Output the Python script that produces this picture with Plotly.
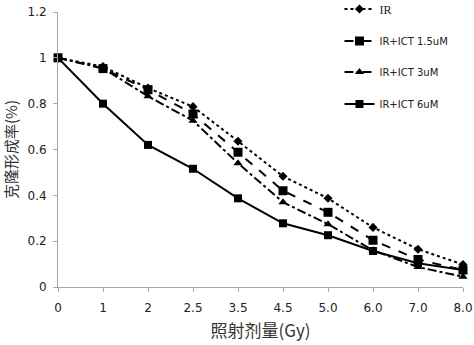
import plotly.graph_objects as go

categories = ["0", "1", "2", "2.5", "3.5", "4.5", "5.0", "6.0", "7.0", "8.0"]
ir = [1.0, 0.962, 0.868, 0.787, 0.636, 0.483, 0.387, 0.26, 0.165, 0.098]
ict_15 = [1.0, 0.953, 0.861, 0.755, 0.588, 0.42, 0.326, 0.204, 0.12, 0.074]
ict_3 = [1.0, 0.955, 0.832, 0.726, 0.54, 0.37, 0.274, 0.16, 0.087, 0.045]
ict_6 = [1.0, 0.80, 0.62, 0.516, 0.387, 0.278, 0.226, 0.157, 0.104, 0.074]
names = ["IR", "IR+ICT 1.5uM", "IR+ICT 3uM", "IR+ICT 6uM"]

x = list(range(len(categories)))
series = [ir, ict_15, ict_3, ict_6]
dashes = ["dot", "dash", "dashdot", "solid"]
symbols = ["diamond", "square", "triangle-up", "square"]
sizes = [7, 9, 8, 8]
legend_ids = ["legend", "legend2", "legend3", "legend4"]
legend_px = [9, 41, 72, 104]
H = 345

fig = go.Figure()
for i, (ys, nm) in enumerate(zip(series, names)):
    fig.add_trace(go.Scatter(
        x=x, y=ys, name=nm, mode="lines+markers", showlegend=True,
        line=dict(color="black", width=2, dash=dashes[i]),
        marker=dict(color="black", symbol=symbols[i], size=sizes[i]),
        legend=legend_ids[i], cliponaxis=False,
    ))

layout_legends = {}
for i, lid in enumerate(legend_ids):
    layout_legends[lid] = dict(
        x=0.695, xref="paper", xanchor="left",
        y=1 - legend_px[i] / H, yref="container", yanchor="middle",
        font=dict(family="'Liberation Serif', serif" if i == 0 else "DejaVu Sans",
                  size=12 if i == 0 else 10, color="#222"),
        itemwidth=30, bgcolor="rgba(0,0,0,0)",
    )

fig.update_layout(
    width=474, height=H, showlegend=True,
    margin=dict(l=58, r=11, t=12, b=58, autoexpand=False),
    paper_bgcolor="white", plot_bgcolor="white",
    font=dict(family="DejaVu Sans", size=12, color="#222"),
    xaxis=dict(range=[0, 9], tickmode="array", tickvals=x, ticktext=categories,
               showgrid=False, zeroline=False, showline=True, linecolor="#a6a6a6",
               linewidth=1, ticks="outside", ticklen=4, tickcolor="#a6a6a6",
               ticklabelstandoff=6,
               title=dict(text="照射剂量(Gy)", font=dict(family="Noto Sans CJK SC", size=17, color="#333"),
                          standoff=10)),
    yaxis=dict(range=[0, 1.2], tickvals=[0, 0.2, 0.4, 0.6, 0.8, 1, 1.2],
               ticktext=["0", "0.2", "0.4", "0.6", "0.8", "1", "1.2"],
               showgrid=False, zeroline=False, showline=True, linecolor="#a6a6a6",
               linewidth=1, ticks="outside", ticklen=4, tickcolor="#a6a6a6",
               ticklabelstandoff=4,
               title=dict(text="克隆形成率(%)", font=dict(family="Noto Sans CJK SC", size=15, color="#333"),
                          standoff=6)),
    **layout_legends,
)

fig.write_html("out.html")
